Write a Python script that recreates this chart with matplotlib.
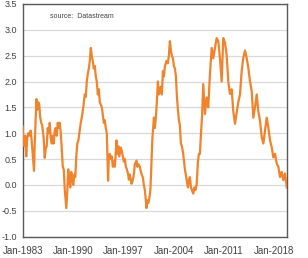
import matplotlib
matplotlib.use("Agg")
import matplotlib.pyplot as plt
from matplotlib import font_manager

years = [1983.00, 1983.07, 1983.21, 1983.35, 1983.49, 1983.63, 1983.77, 1983.97, 1984.11, 1984.25,
         1984.39, 1984.57, 1984.67, 1984.81, 1984.91, 1985.02, 1985.16, 1985.30, 1985.44, 1985.58,
         1985.71, 1985.92, 1986.06, 1986.20, 1986.34, 1986.48, 1986.62, 1986.76, 1986.90, 1987.04,
         1987.18, 1987.32, 1987.45, 1987.59, 1987.73, 1987.87, 1988.01, 1988.15, 1988.29, 1988.43,
         1988.57, 1988.71, 1988.85, 1989.06, 1989.19, 1989.33, 1989.47, 1989.61, 1989.75, 1989.89,
         1990.03, 1990.17, 1990.31, 1990.45, 1990.59, 1990.73, 1990.93, 1991.07, 1991.21, 1991.42,
         1991.63, 1991.77, 1991.91, 1992.05, 1992.19, 1992.33, 1992.47, 1992.60, 1992.74, 1992.88,
         1993.02, 1993.16, 1993.30, 1993.44, 1993.58, 1993.72, 1993.86, 1994.00, 1994.14, 1994.28,
         1994.41, 1994.55, 1994.69, 1994.87, 1994.97, 1995.11, 1995.25, 1995.39, 1995.53, 1995.67,
         1995.81, 1996.04, 1996.15, 1996.29, 1996.43, 1996.64, 1996.78, 1996.92, 1997.06, 1997.20,
         1997.34, 1997.48, 1997.66, 1997.76, 1997.89, 1998.13, 1998.31, 1998.45, 1998.59, 1998.83,
         1998.94, 1999.08, 1999.29, 1999.43, 1999.70, 1999.84, 1999.98, 2000.22, 2000.33, 2000.47,
         2000.61, 2000.75, 2000.89, 2001.03, 2001.14, 2001.24, 2001.37, 2001.51, 2001.65, 2001.79,
         2001.93, 2002.07, 2002.21, 2002.35, 2002.49, 2002.63, 2002.77, 2003.00, 2003.18, 2003.32,
         2003.46, 2003.60, 2003.74, 2003.88, 2004.02, 2004.16, 2004.30, 2004.44, 2004.58, 2004.72,
         2004.85, 2004.99, 2005.13, 2005.31, 2005.55, 2005.79, 2005.97, 2006.11, 2006.25, 2006.39,
         2006.52, 2006.71, 2006.87, 2007.01, 2007.18, 2007.36, 2007.50, 2007.64, 2007.78, 2007.92,
         2008.10, 2008.20, 2008.33, 2008.57, 2008.79, 2009.03, 2009.27, 2009.49, 2009.73, 2009.96,
         2010.19, 2010.42, 2010.66, 2010.88, 2011.12, 2011.35, 2011.58, 2011.81, 2012.05, 2012.27,
         2012.51, 2012.75, 2012.97, 2013.21, 2013.44, 2013.67, 2013.90, 2014.14, 2014.36, 2014.60,
         2014.83, 2015.06, 2015.29, 2015.53, 2015.75, 2015.99, 2016.23, 2016.45, 2016.69, 2016.92,
         2017.15, 2017.38, 2017.62, 2017.84, 2018.08, 2018.32, 2018.54, 2018.77, 2019.01, 2019.23,
         2019.47, 2019.71]

values = [1.13, 0.85, 0.75, 0.95, 0.55, 0.90, 1.00, 0.95, 1.05, 0.85,
          0.60, 0.27, 0.80, 1.30, 1.66, 1.45, 1.60, 1.55, 1.30, 1.20,
          1.15, 0.90, 0.52, 0.70, 0.75, 1.10, 1.00, 1.20, 0.90, 0.80,
          0.95, 0.80, 1.05, 1.10, 0.95, 1.20, 1.10, 1.20, 1.00, 0.70,
          0.35, 0.30, -0.10, -0.45, -0.15, 0.30, 0.10, -0.05, 0.25, 0.10,
          0.00, 0.20, 0.15, 0.55, 0.80, 0.85, 1.05, 1.20, 1.30, 1.50,
          1.75, 1.70, 2.00, 2.15, 2.25, 2.40, 2.65, 2.50, 2.40, 2.25,
          2.30, 2.10, 2.00, 1.75, 1.85, 1.60, 1.55, 1.50, 1.35, 1.20,
          1.25, 1.10, 1.00, 0.08, 0.55, 0.60, 0.50, 0.55, 0.35, 0.45,
          0.35, 0.86, 0.60, 0.75, 0.55, 0.72, 0.65, 0.55, 0.45, 0.50,
          0.35, 0.30, 0.20, 0.10, 0.20, 0.02, 0.10, 0.20, 0.40, 0.47,
          0.35, 0.40, 0.35, 0.25, 0.14, 0.00, -0.10, -0.45, -0.30, -0.35,
          -0.25, -0.10, 0.40, 0.90, 1.11, 1.30, 1.10, 1.30, 1.60, 2.00,
          1.75, 1.80, 1.90, 1.75, 2.20, 2.10, 2.30, 2.40, 2.35, 2.50,
          2.78, 2.60, 2.50, 2.45, 2.30, 2.25, 2.10, 1.70, 1.45, 1.25,
          1.15, 0.80, 0.75, 0.60, 0.30, 0.10, -0.05, 0.10, 0.15, -0.05,
          -0.10, -0.17, -0.05, -0.10, 0.00, 0.45, 0.60, 0.60, 0.99, 1.30,
          1.95, 1.70, 1.37, 1.69, 1.50, 2.14, 2.65, 2.45, 2.65, 2.84,
          2.78, 2.45, 2.00, 2.84, 2.75, 2.52, 2.00, 1.76, 1.85, 1.43,
          1.18, 1.40, 1.60, 1.75, 2.20, 2.46, 2.60, 2.45, 2.27, 2.00,
          1.82, 1.30, 1.50, 1.75, 1.43, 1.24, 0.92, 0.80, 1.05, 1.30,
          1.11, 0.86, 0.73, 0.53, 0.60, 0.41, 0.35, 0.15, 0.25, 0.09,
          0.22, -0.05]

tick_years = [1983, 1990, 1997, 2004, 2011, 2018]
tick_labels = ["Jan-1983", "Jan-1990", "Jan-1997", "Jan-2004", "Jan-2011", "Jan-2018"]
y_ticks = [-1.0, -0.5, 0.0, 0.5, 1.0, 1.5, 2.0, 2.5, 3.0, 3.5]

fig = plt.figure(figsize=(3.08, 2.58), dpi=100)
ax = fig.add_axes([0.0737, 0.0833, 0.8583, 0.9012])

ax.plot(years, values, color="#F0832C", lw=1.6, zorder=3, solid_joinstyle="round")

ax.set_xlim(1983.0, 2019.75)
ax.set_ylim(-1.0, 3.5)
ax.set_yticks(y_ticks)
ax.set_yticklabels([f"{v:.1f}" for v in y_ticks], family="Liberation Sans", fontsize=6.5, color="#404040")
ax.set_xticks(tick_years)
ax.set_xticklabels(tick_labels, family="Liberation Sans", fontsize=7, color="#404040")
ax.tick_params(axis="both", length=0)
ax.tick_params(axis="y", pad=4)
ax.tick_params(axis="x", pad=7)
ax.grid(axis="y", color="#d9d9d9", lw=0.9)
ax.set_axisbelow(True)
for s in ax.spines.values():
    s.set_color("#595959")
    s.set_linewidth(1.0)

ax.text(0.103, 0.948, "source:  Datastream", transform=ax.transAxes, fontsize=5.0,
        family="Liberation Sans", color="#404040", va="center", ha="left")

fig.savefig("out.png", dpi=100)
